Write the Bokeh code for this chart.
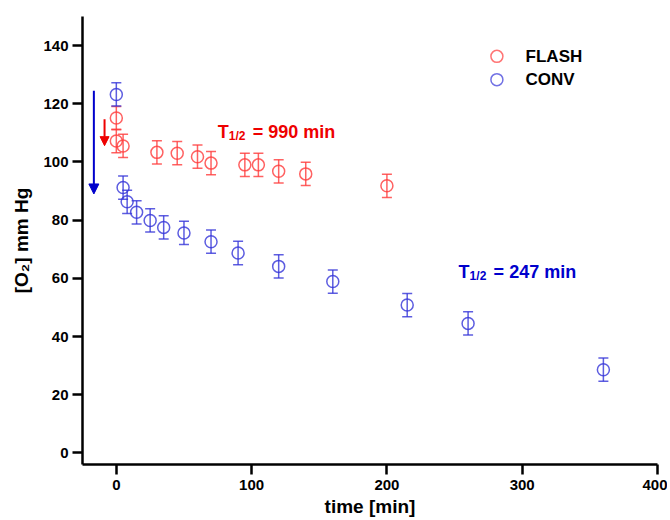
from bokeh.plotting import figure
from bokeh.models import ColumnDataSource, Whisker, TeeHead, Arrow, NormalHead, FixedTicker
from bokeh.core.properties import value
from bokeh.embed import file_html
from bokeh.resources import INLINE

# ---- data ----
flash_t = [0, 0, 5, 30, 45, 60, 70, 95, 105, 120, 140, 200]
flash_o2 = [115.1, 107.2, 105.5, 103.3, 103.0, 101.8, 99.6, 99.0, 99.0, 96.8, 95.9, 91.8]
flash_err = [4, 4, 4, 4, 4, 4, 4, 4, 4, 4, 4, 4]

conv_t = [0, 5, 8, 15, 25, 35, 50, 70, 90, 120, 160, 215, 260, 360]
conv_o2 = [123.2, 91.2, 86.3, 82.7, 79.9, 77.5, 75.6, 72.6, 68.7, 64.1, 58.9, 50.8, 44.5, 28.6]
conv_err = [4, 4, 4, 4, 4, 4, 4, 4, 4, 4, 4, 4, 4, 4]

x_ticks = [0, 100, 200, 300, 400]
y_ticks = [0, 20, 40, 60, 80, 100, 120, 140]

# annotation anchors (data units)
flash_label = ["T", "1/2", "= 990 min"]
flash_label_xy = [75, 110.4]
conv_label = ["T", "1/2", "= 247 min"]
conv_label_xy = [253, 62.3]
red_arrow = [-8.7, 114.7, 105.6]   # x, y_start, y_end
blue_arrow = [-16.6, 124.5, 89.0]
legend_names = ["FLASH", "CONV"]
legend_x = [281.3, 302.5]
legend_y = [136.3, 128.3]

RED = "#ff3b3b"
BLUE = "#3535d8"
FONT = "Liberation Sans"

p = figure(frame_width=575, frame_height=448, x_range=(-25, 400), y_range=(-4, 150),
           output_backend="svg", toolbar_location=None,
           min_border_left=82, min_border_top=16, min_border_right=10, min_border_bottom=52)
p.outline_line_color = None
p.xgrid.visible = False
p.ygrid.visible = False
p.background_fill_color = "white"

for ax in (p.xaxis[0], p.yaxis[0]):
    ax.axis_line_width = 2.5
    ax.axis_line_color = "black"
    ax.major_tick_line_width = 2.5
    ax.major_tick_line_color = "black"
    ax.major_tick_in = 0
    ax.major_tick_out = 10
    ax.minor_tick_line_color = None
    ax.major_label_text_font = FONT
    ax.major_label_text_font_style = "bold"
    ax.major_label_text_font_size = "15px"
    ax.major_label_text_color = "black"
    ax.axis_label_text_font = FONT
    ax.axis_label_text_font_style = "bold"
    ax.axis_label_text_font_size = "19px"
    ax.axis_label_text_color = "black"

p.xaxis.ticker = FixedTicker(ticks=x_ticks)
p.yaxis.ticker = FixedTicker(ticks=y_ticks)
p.xaxis.axis_label = "time [min]"
p.yaxis.axis_label = "[O\u2082] mm Hg"
p.xaxis.major_label_standoff = 5
p.yaxis.major_label_standoff = 4
p.xaxis.axis_label_standoff = 3
p.yaxis.axis_label_standoff = 8

def series(t, o2, err, color):
    src = ColumnDataSource(dict(x=t, y=o2,
                                lo=[a - e for a, e in zip(o2, err)],
                                hi=[a + e for a, e in zip(o2, err)]))
    w = Whisker(source=src, base="x", upper="hi", lower="lo", dimension="height",
                line_color=color, line_width=1.5, line_alpha=0.8,
                upper_head=TeeHead(size=10, line_color=color, line_width=1.5, line_alpha=0.8),
                lower_head=TeeHead(size=10, line_color=color, line_width=1.5, line_alpha=0.8))
    p.add_layout(w)
    p.scatter("x", "y", source=src, marker="circle", size=12, fill_color=None,
              line_color=color, line_width=1.5, line_alpha=0.8)

series(flash_t, flash_o2, flash_err, RED)
series(conv_t, conv_o2, conv_err, BLUE)

# arrows
p.add_layout(Arrow(x_start=red_arrow[0], y_start=red_arrow[1], x_end=red_arrow[0], y_end=red_arrow[2],
                   line_color="#ee0000", line_width=2,
                   end=NormalHead(size=9, fill_color="#ee0000", line_color="#ee0000")))
p.add_layout(Arrow(x_start=blue_arrow[0], y_start=blue_arrow[1], x_end=blue_arrow[0], y_end=blue_arrow[2],
                   line_color="#0000cc", line_width=2,
                   end=NormalHead(size=10, fill_color="#0000cc", line_color="#0000cc")))

def half_label(parts, xy, color):
    x, y = xy
    p.text(x=[x], y=[y], text=[parts[0]], text_font=value(FONT), text_font_style="bold",
           text_font_size="18px", text_color=color, text_baseline="alphabetic", text_align="left")
    p.text(x=[x], y=[y], text=[parts[1]], text_font=value(FONT), text_font_style="bold",
           text_font_size="12px", text_color=color, text_baseline="alphabetic", text_align="left",
           x_offset=11, y_offset=4)
    p.text(x=[x], y=[y], text=[parts[2]], text_font=value(FONT), text_font_style="bold",
           text_font_size="18px", text_color=color, text_baseline="alphabetic", text_align="left",
           x_offset=35)

half_label(flash_label, flash_label_xy, "#ee0000")
half_label(conv_label, conv_label_xy, "#0000cc")

# legend
p.scatter(x=[legend_x[0]] * 2, y=legend_y, marker="circle", size=12, fill_color=None,
          line_color=[RED, BLUE], line_width=1.5, line_alpha=0.7)
p.text(x=[legend_x[1]] * 2, y=legend_y, text=legend_names, text_font=value(FONT),
       text_font_style="bold", text_font_size="17px", text_color="black",
       text_baseline="middle", text_align="left")

open("out.html", "w").write(file_html(p, INLINE))
